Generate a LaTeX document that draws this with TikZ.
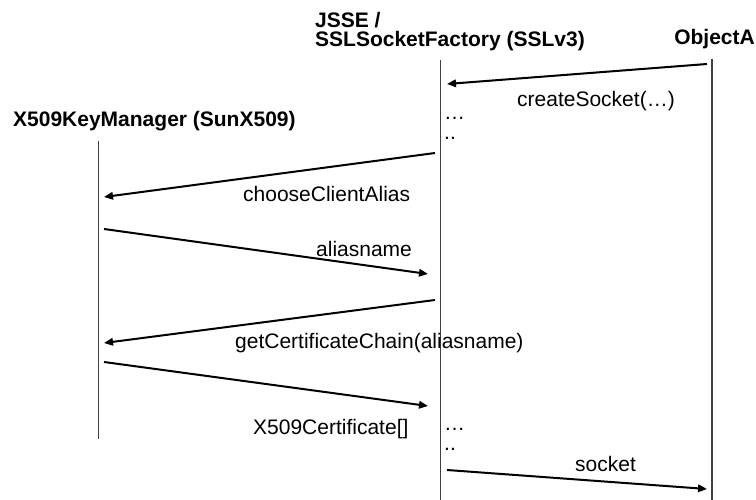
\documentclass[tikz,border=0pt]{standalone}
\usepackage{fontspec}
\setmainfont{Liberation Sans}
\usetikzlibrary{arrows.meta}
\begin{document}
\begin{tikzpicture}[x=1pt,y=-1pt,
  lifeline/.style={draw=black!75, line width=1.2pt},
  msg/.style={draw=black, line width=2pt, -{Triangle[length=9pt,width=7.5pt]}},
  head/.style={font=\fontsize{21}{19}\selectfont\bfseries, inner sep=0pt, anchor=base west},
  lbl/.style={font=\fontsize{21}{25}\selectfont, inner sep=0pt, anchor=base west}]
\useasboundingbox (0,0) rectangle (756,500);
% headers
\node[head] (km) at (13,127) {X509KeyManager (SunX509)};
\node[head] (jsse1) at (315,28) {JSSE /};
\node[head] (jsse2) at (315,47) {SSLSocketFactory (SSLv3)};
\node[head, anchor=base east] (obj) at (755,45) {ObjectA};
% lifelines
\coordinate (kmT) at (98.5,141);
\coordinate (kmB) at (98.5,439);
\coordinate (jT) at (440.5,60);
\coordinate (jB) at (440.5,500);
\coordinate (oT) at (712,59);
\coordinate (oB) at (712,500);
\draw[lifeline] (kmT) -- (kmB);
\draw[lifeline] (jT) -- (jB);
\draw[lifeline] (oT) -- (oB);
% message end points
\coordinate (m1s) at (707,64);  \coordinate (m1e) at (447,84);
\coordinate (m2s) at (435,153); \coordinate (m2e) at (104,197);
\coordinate (m3s) at (104,229); \coordinate (m3e) at (428,274);
\coordinate (m4s) at (435,300); \coordinate (m4e) at (104,343);
\coordinate (m5s) at (104,362); \coordinate (m5e) at (428,406);
\coordinate (m6s) at (447,470); \coordinate (m6e) at (707,489);
\draw[msg] (m1s) -- (m1e);
\draw[msg] (m2s) -- (m2e);
\draw[msg] (m3s) -- (m3e);
\draw[msg] (m4s) -- (m4e);
\draw[msg] (m5s) -- (m5e);
\draw[msg] (m6s) -- (m6e);
% labels
\node[lbl] (l1) at (517,107) {createSocket(…)};
\node[lbl] (l2) at (243,201.5) {chooseClientAlias};
\node[lbl] (l3) at (316,256.5) {aliasname};
\node[lbl] (l4) at (235,348.5) {getCertificateChain(aliasname)};
\node[lbl] (l5) at (253,434) {X509Certificate[]};
\node[lbl] (l6) at (575,471.5) {socket};
% dots
\node[lbl] (d1) at (444,120) {…};
\node[lbl] (d2) at (444,140) {..};
\node[lbl] (d3) at (444,430) {…};
\node[lbl] (d4) at (444,450) {..};
\end{tikzpicture}
\end{document}
